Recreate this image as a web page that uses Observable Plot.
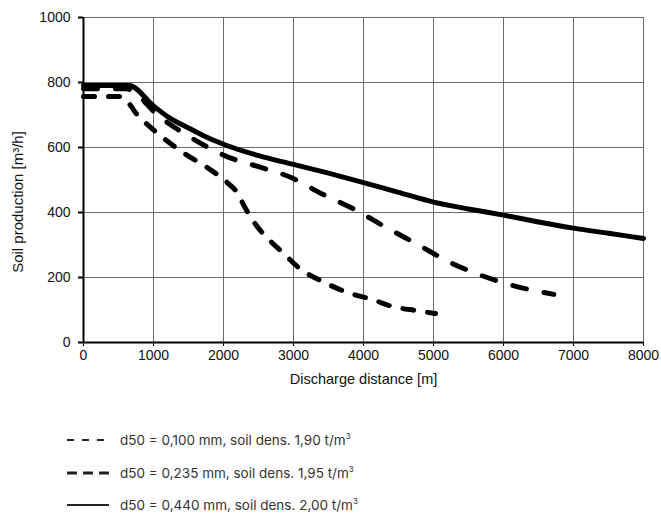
<!DOCTYPE html>
<html>
<head>
<meta charset="utf-8">
<script src="https://cdn.jsdelivr.net/npm/d3@7"></script>
<script src="https://cdn.jsdelivr.net/npm/@observablehq/plot@0.6"></script>
<style>
  html, body { margin: 0; padding: 0; background: #fff; overflow: hidden; }
  #chart svg { display: block; }
  .legend { font-family: Inter, "Noto Sans", sans-serif; font-size: 13.5px; color: #333; margin-top: 24px; }
  .legend .row { display: flex; align-items: center; height: 32.5px; }
  .legend svg { margin-left: 66px; margin-right: 11px; }
  sup { font-size: 8px; vertical-align: 6px; line-height: 0; }
</style>
</head>
<body>
<div id="chart"></div>
<div class="legend" id="legend"></div>
<script>
// Series: d50 = 0,100 mm (short dashes)
const dist100 = [0, 530, 780, 1130, 1440, 1790, 2070, 2200, 2300, 2460, 2690, 2860, 3070, 3440, 3770, 4130, 4410, 4760, 5030];
const prod100 = [757, 757, 698, 631, 582, 535, 489, 460, 418, 363, 308, 274, 231, 185, 154, 132, 111, 98, 89];
// Series: d50 = 0,235 mm (long dashes)
const dist235 = [0, 600, 1100, 1600, 2050, 2500, 2950, 3400, 3850, 4300, 4770, 5240, 5690, 6140, 6720];
const prod235 = [781, 781, 692, 622, 572, 541, 509, 458, 412, 357, 302, 246, 206, 175, 148];
// Series: d50 = 0,440 mm (solid)
const dist440 = [0, 650, 1000, 1200, 1500, 1700, 2000, 2500, 3000, 3500, 4000, 4500, 5000, 5500, 6000, 6500, 7000, 7500, 8000];
const prod440 = [791, 791, 728, 695, 660, 638, 610, 575, 548, 521, 492, 462, 432, 411, 392, 371, 352, 336, 320];

const xTicks = [0, 1000, 2000, 3000, 4000, 5000, 6000, 7000, 8000];
const yTicks = [0, 200, 400, 600, 800, 1000];
const legendLabels = [
  "d50 = 0,100 mm, soil dens. 1,90 t/m<sup>3</sup>",
  "d50 = 0,235 mm, soil dens. 1,95 t/m<sup>3</sup>",
  "d50 = 0,440 mm, soil dens. 2,00 t/m<sup>3</sup>"
];

const toRows = (xs, ys) => xs.map((x, i) => ({x, y: ys[i]}));
const s100 = toRows(dist100, prod100);
const s235 = toRows(dist235, prod235);
const s440 = toRows(dist440, prod440);

const chart = Plot.plot({
  width: 661,
  height: 400,
  marginTop: 17,
  marginRight: 18,
  marginBottom: 58,
  marginLeft: 83,
  style: { fontFamily: "'Liberation Sans', Arial, sans-serif", fontSize: "14px", color: "#111", background: "#fff" },
  x: { domain: [0, 8000] },
  y: { domain: [0, 1000] },
  marks: [
    Plot.gridX(xTicks, { stroke: "#6a6a6a", strokeOpacity: 1, strokeWidth: 1 }),
    Plot.gridY(yTicks, { stroke: "#6a6a6a", strokeOpacity: 1, strokeWidth: 1 }),
    Plot.axisX({ ticks: xTicks, tickSize: 4, tickPadding: 4, label: null, tickFormat: d => String(d), stroke: "#000", fontSize: 14 }),
    Plot.axisY({ ticks: yTicks, tickSize: 5, tickPadding: 8, label: null, tickFormat: d => String(d), stroke: "#000", strokeWidth: 2, fontSize: 14 }),
    Plot.ruleX([0], { stroke: "#000", strokeWidth: 2 }),
    Plot.ruleY([0], { stroke: "#000", strokeWidth: 2 }),
    Plot.line(s440, { x: "x", y: "y", stroke: "#000", strokeWidth: 5, curve: "monotone-x", strokeLinejoin: "round" }),
    Plot.line(s235, { x: "x", y: "y", stroke: "#000", strokeWidth: 5, curve: "monotone-x", strokeDasharray: "14,18", strokeLinecap: "round" }),
    Plot.line(s100, { x: "x", y: "y", stroke: "#000", strokeWidth: 5, curve: "monotone-x", strokeDasharray: "11,14", strokeLinecap: "round" }),
    Plot.text(["Discharge distance [m]"], { frameAnchor: "bottom", dy: 41, fontSize: 14.5, fill: "#111" }),
    Plot.text(["Soil production [m³/h]"], { frameAnchor: "left", dx: -65, dy: 22, rotate: -90, textAnchor: "middle", fontSize: 15, fill: "#111" })
  ]
});
document.getElementById("chart").appendChild(chart);

const dashes = ["7,8", "10,6", null];
const widths = [2, 3, 2];
const legend = document.getElementById("legend");
legendLabels.forEach((lab, i) => {
  const row = document.createElement("div");
  row.className = "row";
  const da = dashes[i] ? ` stroke-dasharray="${dashes[i]}"` : "";
  row.innerHTML = `<svg width="43" height="6"><line x1="1" y1="3" x2="43" y2="3" stroke="#222" stroke-width="${widths[i]}"${da}/></svg><span>${lab}</span>`;
  legend.appendChild(row);
});
</script>
</body>
</html>
